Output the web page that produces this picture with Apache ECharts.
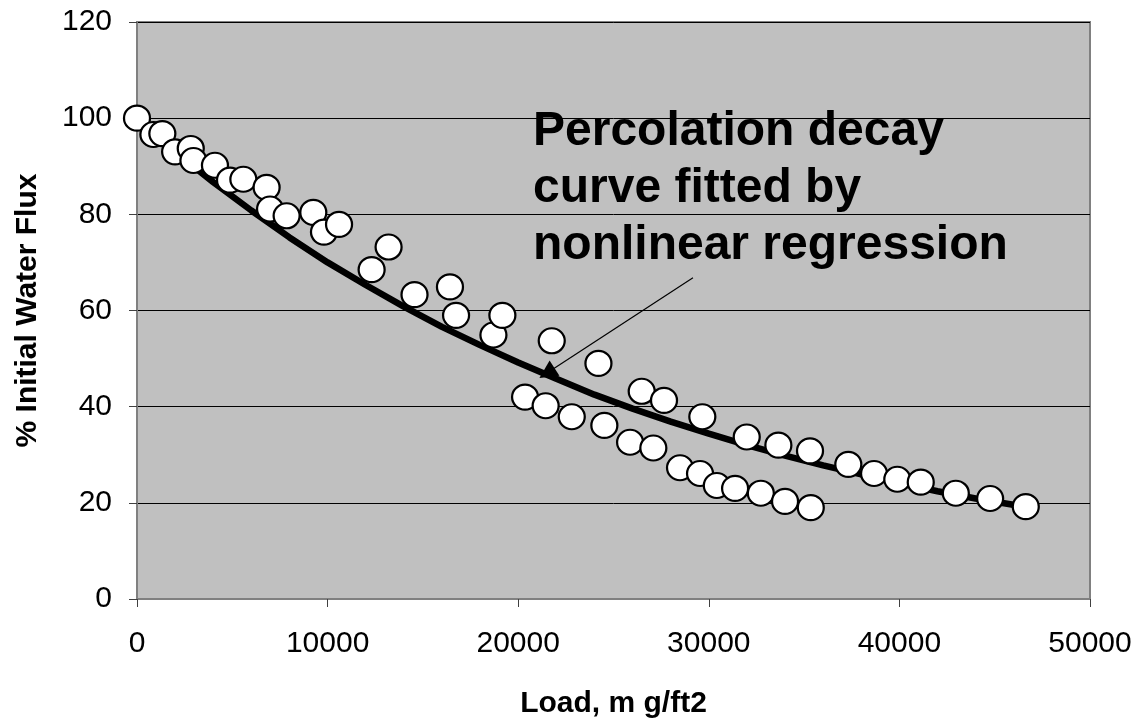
<!DOCTYPE html>
<html>
<head>
<meta charset="utf-8">
<script src="https://cdn.jsdelivr.net/npm/echarts@6/dist/echarts.min.js"></script>
<style>
  html, body { margin: 0; padding: 0; background: #ffffff; }
  #chart { width: 1136px; height: 724px; }
</style>
</head>
<body>
<div id="chart"></div>
<script>
// Observed data points (load in mg/ft2, % initial water flux)
const loadX = [0, 860, 1330, 2000, 2820, 2960, 4090, 4880, 5580, 6800, 6980, 7850, 9250, 9810, 10600,
  12310, 13200, 14560, 16420, 16740, 18700, 19170, 20360, 21440, 21760, 22810, 24210, 24520, 25870,
  26480, 27090, 27650, 28490, 29540, 29660, 30420, 31380, 31990, 32730, 33650, 34000, 35310, 35350,
  37320, 38670, 39890, 41120, 42960, 44760, 46630];
const fluxY = [100, 96.6, 96.8, 93.0, 93.7, 91.2, 90.2, 87.1, 87.3, 85.6, 81.1, 79.7, 80.4, 76.3, 77.9,
  68.5, 73.2, 63.3, 64.9, 59.0, 54.9, 59.0, 42.0, 40.2, 53.7, 37.9, 49.0, 36.1, 32.6,
  43.2, 31.4, 41.3, 27.3, 26.1, 37.9, 23.6, 23.0, 33.7, 22.0, 32.0, 20.3, 30.8, 19.0,
  28.0, 26.1, 24.9, 24.3, 22.0, 20.9, 19.2];

// Fitted decay curve
const curveX = [0, 2000, 4000, 6000, 8000, 10000, 12000, 14000, 16000, 18000, 20000, 22000, 24000,
  26000, 28000, 30000, 32000, 34000, 36000, 38000, 40000, 42000, 44000, 46600];
const curveY = [100, 93.0, 86.7, 80.8, 75.2, 70.0, 65.3, 60.8, 56.6, 52.8, 49.2, 45.8, 42.5,
  39.6, 36.9, 34.4, 32.0, 29.8, 27.8, 25.9, 24.1, 22.4, 20.9, 19.2];

// Annotation
const noteLines = ["Percolation decay", "curve fitted by", "nonlinear regression"];
const arrowFrom = [29170, 66.8];
const arrowTo = [21510, 47.0];

// Axis settings
const xTicks = { min: 0, max: 50000, interval: 10000 };
const yTicks = { min: 0, max: 120, interval: 20 };
const xTitle = "Load, m g/ft2";
const yTitle = "% Initial Water Flux";

const FONT = "'Liberation Sans', Arial, sans-serif";

const points = loadX.map((x, i) => [x, fluxY[i]]);
const curve = curveX.map((x, i) => [x, curveY[i]]);

const chart = echarts.init(document.getElementById('chart'), null, { renderer: 'canvas' });
chart.setOption({
  animation: false,
  backgroundColor: '#ffffff',
  grid: {
    left: 137, right: 46, top: 22, bottom: 122,
    show: true, backgroundColor: '#c0c0c0', borderColor: '#808080', borderWidth: 2
  },
  xAxis: {
    type: 'value',
    min: xTicks.min, max: xTicks.max, interval: xTicks.interval,
    name: xTitle, nameLocation: 'middle', nameGap: 90,
    nameTextStyle: { fontFamily: FONT, fontSize: 30, fontWeight: 'bold', color: '#000' },
    axisLine: { show: true, onZero: false, lineStyle: { color: '#808080', width: 2 } },
    axisTick: { show: true, inside: false, length: 8, lineStyle: { color: '#404040', width: 1 } },
    axisLabel: { fontFamily: FONT, fontSize: 30, color: '#000', margin: 30,
      formatter: function (v) { return String(v); } },
    splitLine: { show: false }
  },
  yAxis: {
    type: 'value',
    min: yTicks.min, max: yTicks.max, interval: yTicks.interval,
    name: yTitle, nameLocation: 'middle', nameGap: 94, nameRotate: 90,
    nameTextStyle: { fontFamily: FONT, fontSize: 30, fontWeight: 'bold', color: '#000' },
    axisLine: { show: true, lineStyle: { color: '#808080', width: 2 } },
    axisTick: { show: true, inside: false, length: 8, lineStyle: { color: '#404040', width: 1 } },
    axisLabel: { fontFamily: FONT, fontSize: 30, color: '#000', margin: 25,
      formatter: function (v) { return String(v); } },
    splitLine: { show: true, lineStyle: { color: '#000', width: 1 } }
  },
  series: [
    {
      type: 'line',
      name: 'Fitted curve',
      data: curve,
      showSymbol: false,
      symbol: 'none',
      lineStyle: { color: '#000', width: 6.5 },
      z: 2,
      markLine: {
        silent: true,
        symbol: ['none', 'triangle'],
        symbolSize: 18,
        label: { show: false },
        itemStyle: { color: '#000' },
        lineStyle: { color: '#000', width: 1.2, type: 'solid' },
        data: [[{ coord: arrowFrom }, { coord: arrowTo }]]
      }
    },
    {
      type: 'scatter',
      name: 'Observed',
      data: points,
      symbol: 'circle',
      symbolSize: [26, 25],
      itemStyle: { color: '#ffffff', borderColor: '#000', borderWidth: 2.2, opacity: 1 },
      z: 3
    }
  ],
  graphic: [
    {
      type: 'text',
      left: 533, top: 103,
      z: 10,
      style: {
        text: noteLines.join('\n'),
        font: "bold 48px 'Liberation Sans', Arial, sans-serif",
        fill: '#000',
        lineHeight: 57
      }
    }
  ]
});
</script>
</body>
</html>
